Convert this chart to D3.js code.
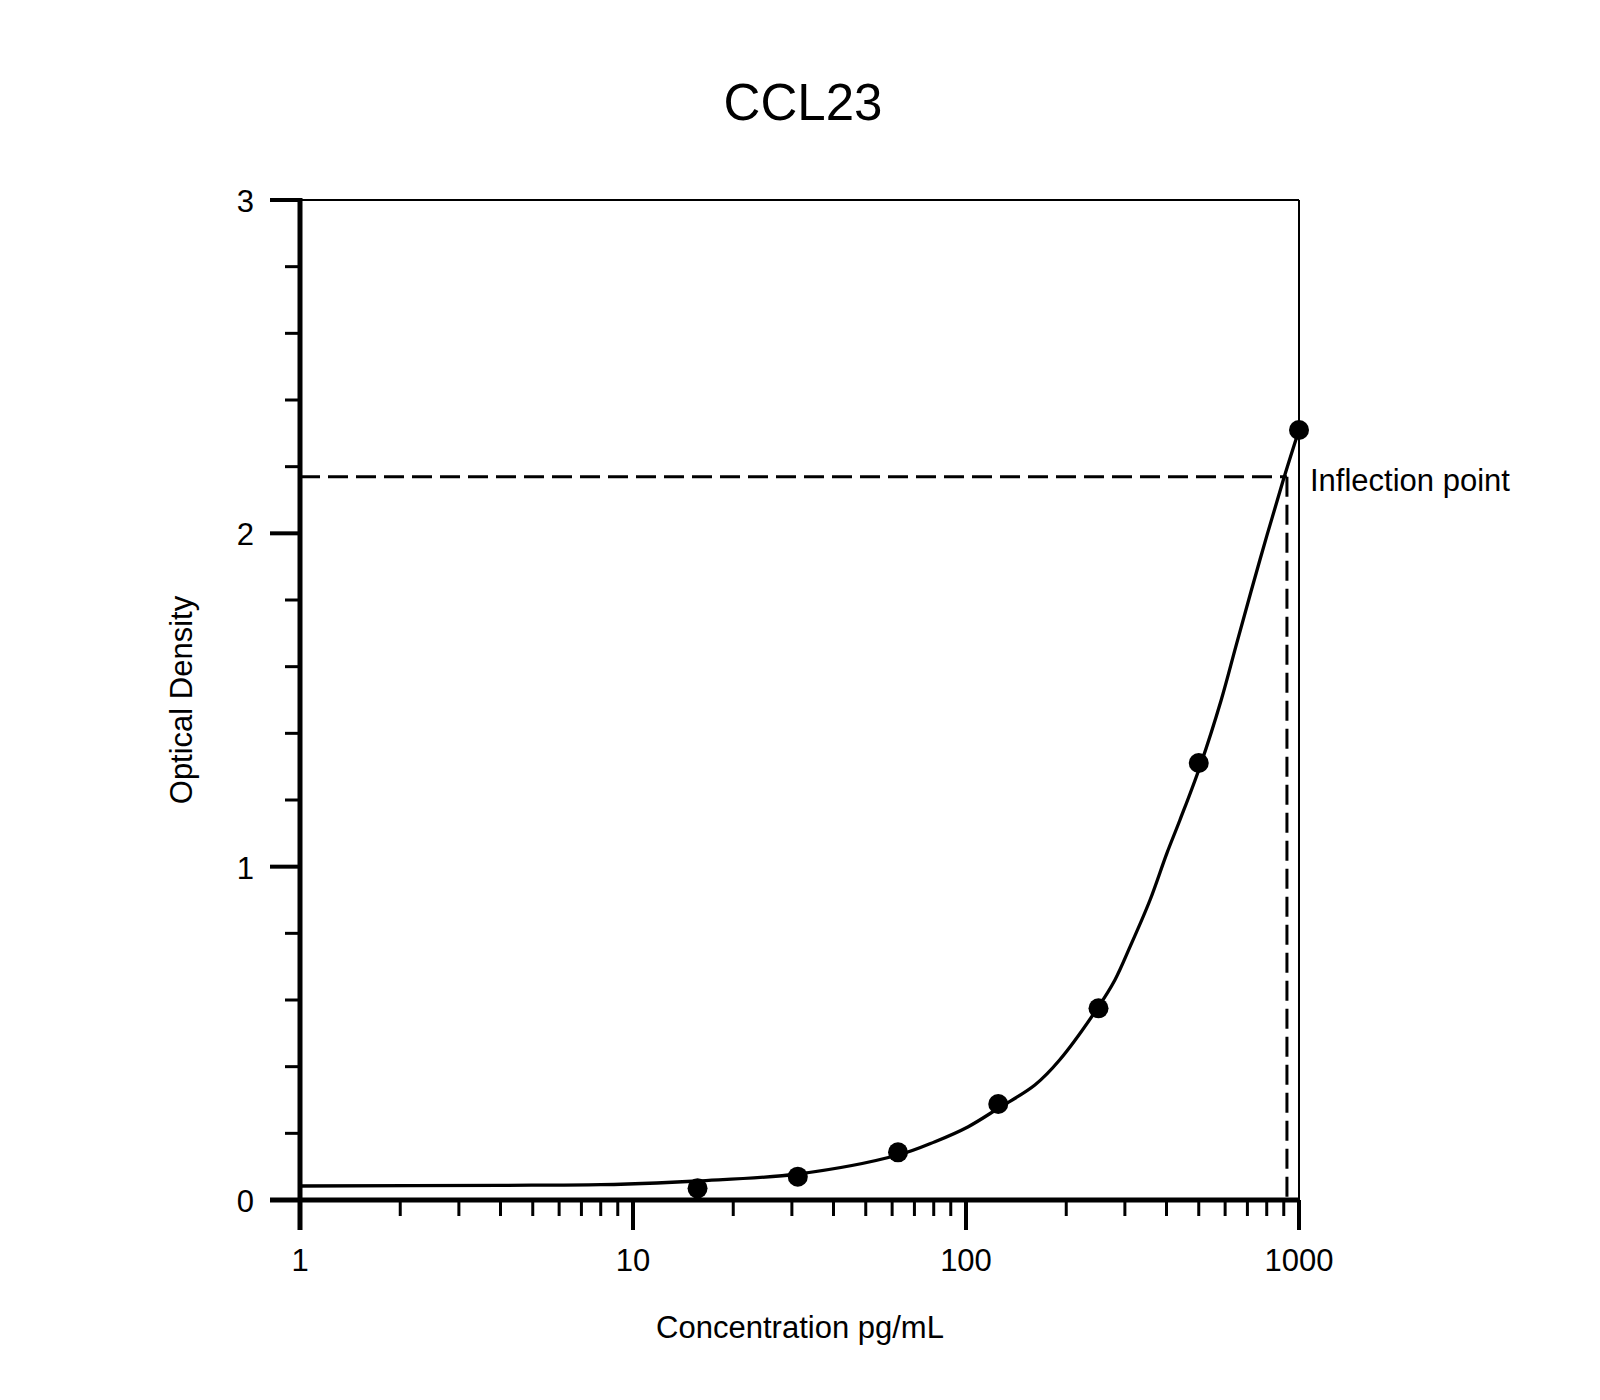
<!DOCTYPE html>
<html>
<head>
<meta charset="utf-8">
<script src="https://cdn.jsdelivr.net/npm/d3@7"></script>
<style>
  body { margin: 0; background: #fff; }
  text { font-family: "Liberation Sans", Arial, sans-serif; fill: #000; }
</style>
</head>
<body>
<svg width="1600" height="1400"></svg>
<script>
// standard points (concentration pg/mL, OD)
const stdConc = [15.625, 31.25, 62.5, 125, 250, 500, 1000];
const stdOD = [0.035, 0.070, 0.143, 0.288, 0.575, 1.311, 2.31];

// fitted curve
const curveConc = [1, 4, 8, 11.8, 15.6, 31.25, 62.5, 80.7, 101.6, 125, 161, 191, 250, 280, 311, 357, 401, 439, 504, 584, 650, 763, 897, 1000];
const curveOD = [0.042, 0.044, 0.046, 0.051, 0.057, 0.078, 0.135, 0.175, 0.22, 0.275, 0.345, 0.42, 0.58, 0.66, 0.76, 0.90, 1.04, 1.14, 1.30, 1.50, 1.67, 1.92, 2.16, 2.31];

const inflectionConc = 920;
const inflectionOD = 2.17;

const xTicks = [1, 10, 100, 1000];
const yTicks = [0, 1, 2, 3];

const svg = d3.select('svg');
const x = d3.scaleLog().domain([1, 1000]).range([300, 1299]);
const y = d3.scaleLinear().domain([0, 3]).range([1200, 200]);

// minor ticks
const xMinor = [];
[1, 10, 100].forEach(d => { for (let k = 2; k <= 9; k++) xMinor.push(d * k); });
const yMinor = d3.range(0, 3.001, 0.2).filter(v => Math.abs(v - Math.round(v)) > 1e-6);

svg.append('g').selectAll('line').data(xMinor).enter().append('line')
  .attr('x1', d => x(d)).attr('x2', d => x(d))
  .attr('y1', y(0)).attr('y2', y(0) + 16)
  .attr('stroke', '#000').attr('stroke-width', 3);

svg.append('g').selectAll('line').data(xTicks).enter().append('line')
  .attr('x1', d => x(d)).attr('x2', d => x(d))
  .attr('y1', y(0)).attr('y2', y(0) + 30)
  .attr('stroke', '#000').attr('stroke-width', 4);

svg.append('g').selectAll('line').data(yMinor).enter().append('line')
  .attr('x1', x(1) - 15).attr('x2', x(1))
  .attr('y1', d => y(d)).attr('y2', d => y(d))
  .attr('stroke', '#000').attr('stroke-width', 3);

svg.append('g').selectAll('line').data(yTicks).enter().append('line')
  .attr('x1', x(1) - 30).attr('x2', x(1))
  .attr('y1', d => y(d)).attr('y2', d => y(d))
  .attr('stroke', '#000').attr('stroke-width', 4);

// frame: thin top and right, thick axes
svg.append('line')
  .attr('x1', x(1)).attr('x2', x(1000)).attr('y1', y(3)).attr('y2', y(3))
  .attr('stroke', '#000').attr('stroke-width', 2);
svg.append('line')
  .attr('x1', x(1000)).attr('x2', x(1000)).attr('y1', y(3)).attr('y2', y(0))
  .attr('stroke', '#000').attr('stroke-width', 2);
svg.append('line')
  .attr('x1', x(1) - 30).attr('x2', x(1000) + 1).attr('y1', y(0)).attr('y2', y(0))
  .attr('stroke', '#000').attr('stroke-width', 5);
svg.append('line')
  .attr('x1', x(1)).attr('x2', x(1)).attr('y1', y(3) - 2).attr('y2', y(0) + 30)
  .attr('stroke', '#000').attr('stroke-width', 5);

// tick labels
svg.append('g').selectAll('text').data(xTicks).enter().append('text')
  .attr('x', d => x(d)).attr('y', 1271)
  .attr('text-anchor', 'middle').attr('font-size', 31)
  .text(d => d);

svg.append('g').selectAll('text').data(yTicks).enter().append('text')
  .attr('x', 254).attr('y', d => y(d) + 12)
  .attr('text-anchor', 'end').attr('font-size', 31)
  .text(d => d);

// inflection guides
svg.append('line')
  .attr('x1', x(1)).attr('x2', x(inflectionConc))
  .attr('y1', y(inflectionOD)).attr('y2', y(inflectionOD))
  .attr('stroke', '#000').attr('stroke-width', 3).attr('stroke-dasharray', '20,8');
svg.append('line')
  .attr('x1', x(inflectionConc)).attr('x2', x(inflectionConc))
  .attr('y1', y(inflectionOD)).attr('y2', y(0))
  .attr('stroke', '#000').attr('stroke-width', 3).attr('stroke-dasharray', '20,8');

// fitted curve
const line = d3.line()
  .x(d => x(d[0])).y(d => y(d[1]))
  .curve(d3.curveCatmullRom.alpha(0.5));
svg.append('path')
  .datum(curveConc.map((c, i) => [c, curveOD[i]]))
  .attr('d', line)
  .attr('fill', 'none').attr('stroke', '#000').attr('stroke-width', 3.3);

// points
svg.append('g').selectAll('circle').data(stdConc).enter().append('circle')
  .attr('cx', d => x(d)).attr('cy', (d, i) => y(stdOD[i]))
  .attr('r', 10).attr('fill', '#000');

// texts
svg.append('text')
  .attr('x', 1310).attr('y', 491).attr('font-size', 31)
  .text('Inflection point');

svg.append('text')
  .attr('x', 803).attr('y', 120).attr('text-anchor', 'middle').attr('font-size', 51)
  .text('CCL23');

svg.append('text')
  .attr('x', 800).attr('y', 1338).attr('text-anchor', 'middle').attr('font-size', 31)
  .text('Concentration pg/mL');

svg.append('text')
  .attr('transform', 'translate(192,700) rotate(-90)')
  .attr('text-anchor', 'middle').attr('font-size', 31)
  .text('Optical Density');
</script>
</body>
</html>
